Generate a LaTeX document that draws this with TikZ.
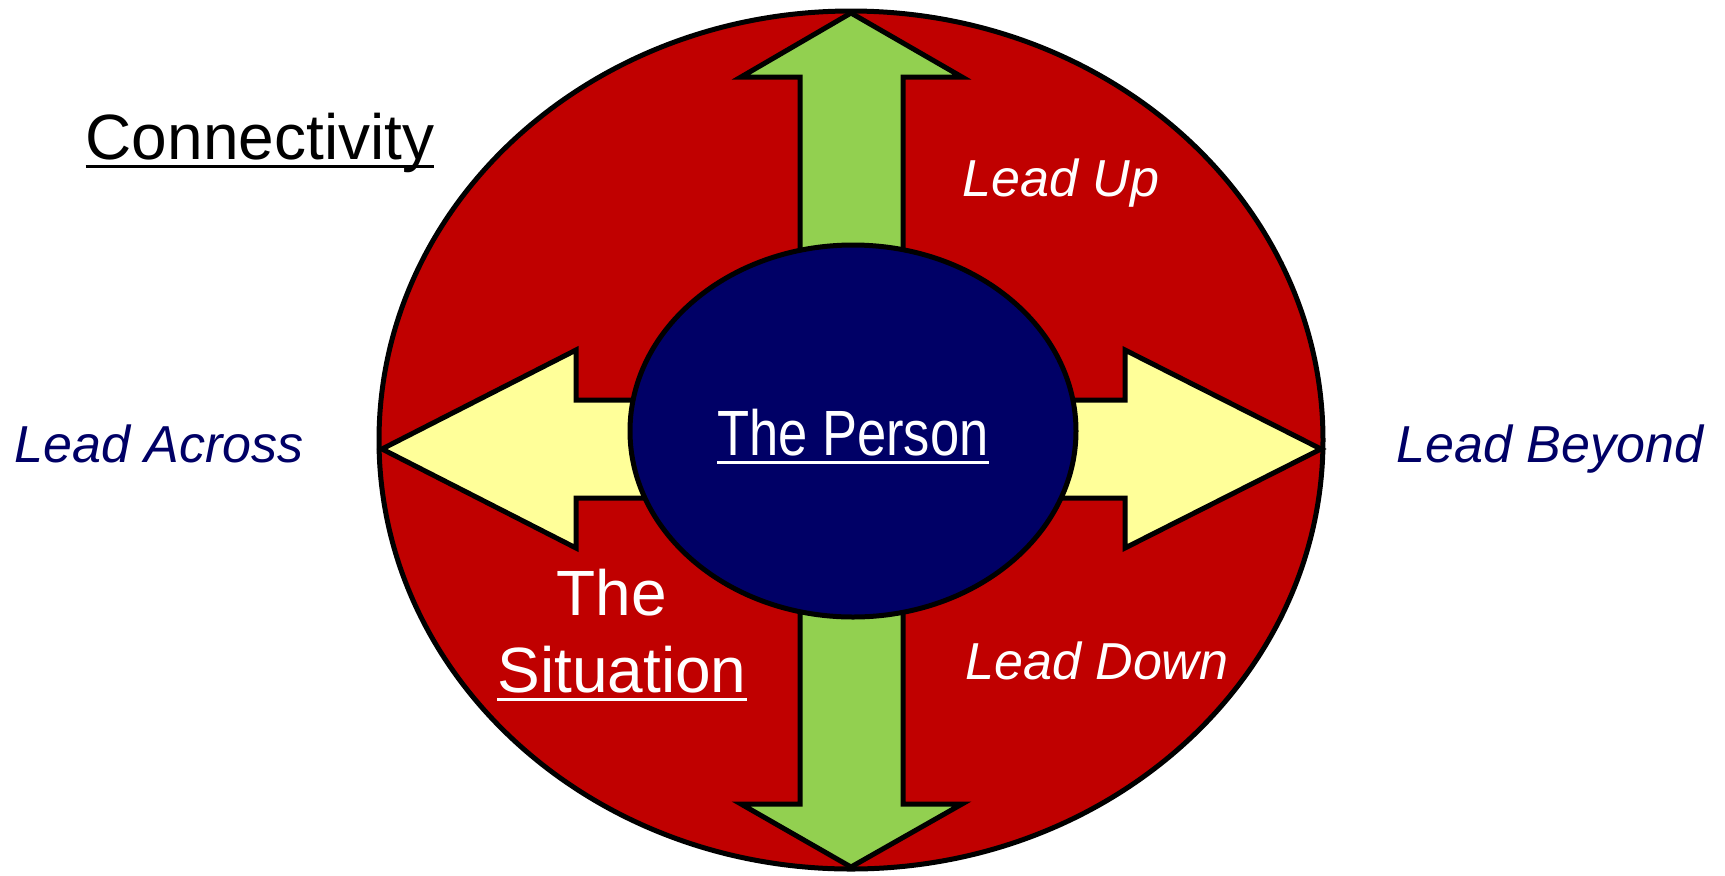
\documentclass[tikz,border=0pt]{standalone}
\usepackage{fontspec}
\setmainfont{Liberation Sans}
\newfontfamily\narrowfont{Liberation Sans}[FakeStretch=0.82]
\usetikzlibrary{shapes.geometric}
\definecolor{ringred}{HTML}{C00000}
\definecolor{navy}{HTML}{000066}
\definecolor{upgreen}{HTML}{92D050}
\definecolor{sideyellow}{HTML}{FFFF99}
\newcommand{\ulabel}[2][4.5pt]{\sbox0{#2}\rlap{\rule[-#1]{\wd0}{1.5pt}}\usebox0}

\begin{document}
\begin{tikzpicture}[
  x=0.5pt,y=-0.5pt,
  outline/.style={draw=black,line width=2.5pt},
  ring/.style={ellipse,outline,fill=ringred,minimum width=472pt,minimum height=429pt},
  core/.style={ellipse,outline,fill=navy,minimum width=223pt,minimum height=186pt},
  leadtext/.style={anchor=base,font=\fontsize{26}{31}\selectfont\itshape},
  bigtext/.style={anchor=base,font=\fontsize{32}{38.5}\selectfont}
]
\useasboundingbox (0,0) rectangle (1725,875);
\node[ring] (situation) at (851,440) {};
\draw[outline,fill=upgreen] (851,13) -- (962,77) -- (903,77) -- (903,804) -- (962,804)
  -- (851,867) -- (741,804) -- (800,804) -- (800,77) -- (741,77) -- cycle;
\draw[outline,fill=sideyellow] (382,449) -- (576,350) -- (576,400) -- (1125,400) -- (1125,350)
  -- (1321,449) -- (1125,548) -- (1125,498) -- (576,498) -- (576,548) -- cycle;
\node[core] (person) at (853,431) {};

\node[bigtext] (title) at (260,159) {\ulabel{Connectivity}};
\node[leadtext,text=navy] (across) at (159,462) {Lead Across};
\node[leadtext,text=navy] (beyond) at (1550,462) {Lead Beyond};
\node[leadtext,text=white] (up) at (1061,196) {Lead Up};
\node[leadtext,text=white] (down) at (1097,679) {Lead Down};
\node[bigtext,text=white,font=\narrowfont\fontsize{32}{38.5}\selectfont] (personlabel) at (853,455) {\ulabel{The Person}};
\node[bigtext,text=white,align=center] (situationlabel) at (622,692) {The\hspace*{10pt}\\\ulabel{Situation}};
\end{tikzpicture}
\end{document}
